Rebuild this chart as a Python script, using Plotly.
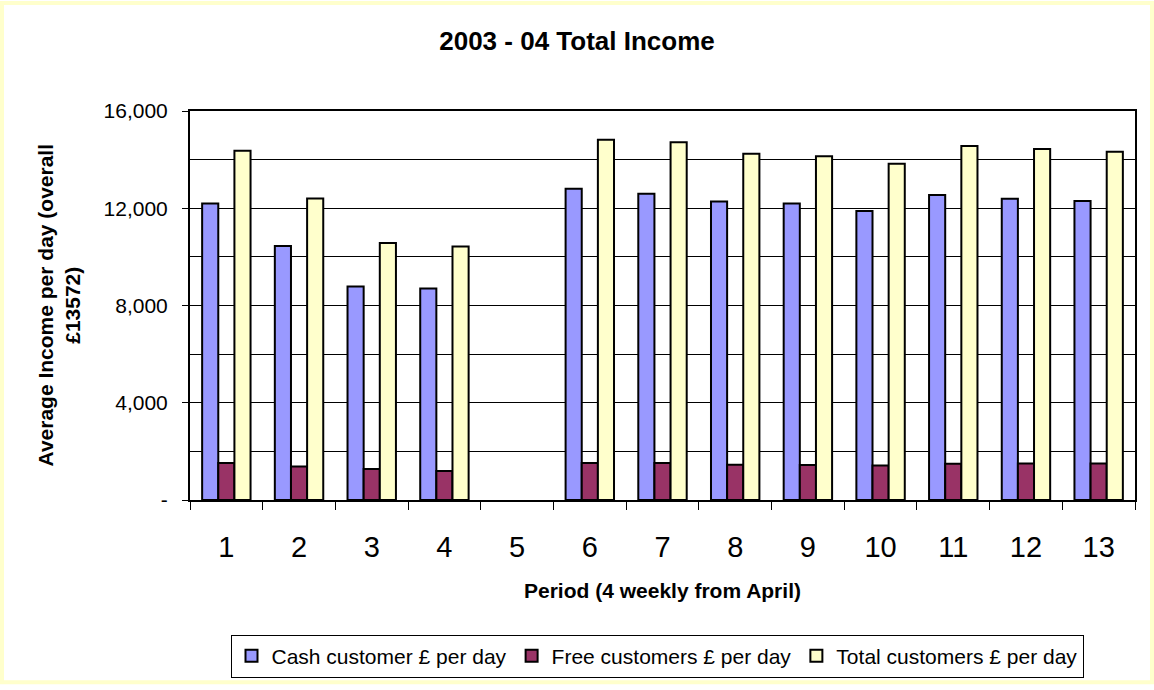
import plotly.graph_objects as go

periods = [str(i) for i in range(1, 14)]
cash = [12200, 10450, 8780, 8700, None, 12800, 12600, 12280, 12200, 11890, 12550, 12390, 12300]
free = [1520, 1380, 1280, 1190, None, 1520, 1520, 1450, 1440, 1420, 1490, 1500, 1500]
total = [14370, 12400, 10570, 10430, None, 14820, 14710, 14240, 14140, 13830, 14560, 14440, 14320]
series_names = ["Cash customer £ per day", "Free customers £ per day", "Total customers £ per day"]
colors = ["#9999FF", "#993366", "#FFFFCC"]
ytick_vals = [0, 4000, 8000, 12000, 16000]
ytick_text = ["-", "4,000", "8,000", "12,000", "16,000"]

W, H = 1154, 690
L, R, T, B = 190, 19, 111, 186
PW, PH = W - L - R, H - T - B

def px_x(x):
    return (x - L) / PW

def px_y(y):
    return (H - B - y) / PH

FONT = "Liberation Sans"

fig = go.Figure()
for name, vals, col in zip(series_names, [cash, free, total], colors):
    fig.add_trace(go.Bar(
        x=periods, y=vals, name=name,
        marker=dict(color=col, line=dict(color="black", width=2)),
    ))

fig.update_layout(
    width=W, height=H,
    margin=dict(l=L, r=R, t=T, b=B),
    paper_bgcolor="white", plot_bgcolor="white",
    barmode="group", bargap=0.334, bargroupgap=0,
    font=dict(family=FONT, color="black"),
    title=dict(text="<b>2003 - 04 Total Income</b>", x=0.5, xref="container", xanchor="center",
               y=1 - 41 / H, yref="container", yanchor="middle",
               font=dict(size=26, family=FONT, color="black")),
    showlegend=True,
    legend=dict(orientation="h", x=px_x(657), xanchor="center", y=px_y(640), yanchor="top",
                bordercolor="black", borderwidth=1, bgcolor="white",
                font=dict(size=21, family=FONT), itemwidth=30, traceorder="normal",
                tracegroupgap=0),
)

fig.update_xaxes(
    type="category", showline=True, linecolor="black", linewidth=2, mirror=True,
    ticks="outside", tickson="boundaries", ticklen=8, tickcolor="black", tickwidth=1,
    tickfont=dict(size=29, family=FONT), ticklabelstandoff=20, showgrid=False,
)
fig.update_yaxes(
    range=[0, 16000], tickmode="array", tickvals=ytick_vals, ticktext=ytick_text,
    showline=True, linecolor="black", linewidth=2, mirror=True,
    ticks="outside", ticklen=6, tickcolor="black", tickwidth=1,
    tickfont=dict(size=21, family=FONT), ticklabelstandoff=10,
    showgrid=True, gridcolor="black", gridwidth=1, zeroline=False,
    minor=dict(tickmode="linear", tick0=0, dtick=2000, showgrid=True, gridcolor="black",
               gridwidth=1, ticks=""),
)

fig.add_annotation(
    text="<b>Average Income per day (overall<br>£13572)</b>", textangle=-90,
    xref="paper", yref="paper", x=px_x(58), y=0.5, xanchor="center", yanchor="middle",
    showarrow=False, font=dict(size=21, family=FONT, color="black"),
)
fig.add_annotation(
    text="<b>Period (4 weekly from April)</b>",
    xref="paper", yref="paper", x=0.5, y=px_y(595), xanchor="center", yanchor="middle",
    showarrow=False, font=dict(size=21, family=FONT, color="black"),
)

fig.add_shape(type="rect", xref="paper", yref="paper",
              x0=px_x(2), x1=px_x(W - 2), y0=px_y(H - 2), y1=px_y(2),
              line=dict(color="#FFFFCC", width=4), fillcolor="rgba(0,0,0,0)", layer="below")

fig.write_html("out.html")
